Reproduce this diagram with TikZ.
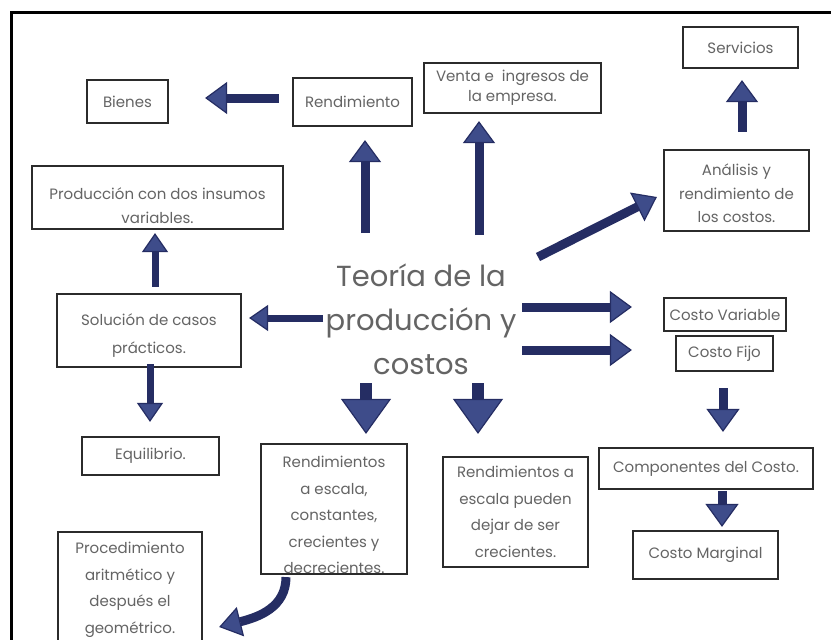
\documentclass[tikz,border=0pt]{standalone}
\usepackage{fontspec}
\setmainfont{Poppins}
\usetikzlibrary{arrows.meta,calc}
\definecolor{navy}{HTML}{252D63}
\definecolor{navyfill}{HTML}{3E4C8A}
\definecolor{ink}{HTML}{646464}
\definecolor{edge}{HTML}{2B2B2B}
\begin{document}
\begin{tikzpicture}[x=1pt,y=-1pt,
  box/.style={draw=edge,line width=2.2pt,inner sep=0pt,fill=white},
  txt/.style={text=ink,font=\fontsize{15}{26}\selectfont,align=center,inner sep=0pt},
  arr/.style={draw=navy,line width=9pt,-{Triangle[length=22pt,width=32pt,line width=1.2pt,fill=navyfill]}},
  arrsm/.style={draw=navy,line width=7pt,-{Triangle[length=19pt,width=26pt,line width=1.2pt,fill=navyfill]}},
  arrmid/.style={draw=navy,line width=9pt,-{Triangle[length=23pt,width=33pt,line width=1.2pt,fill=navyfill]}},
  arrbig/.style={draw=navy,line width=12pt,-{Triangle[length=35pt,width=50pt,line width=1.2pt,fill=navyfill]}},
  arrc/.style={draw=navy,line width=9pt,-{Triangle[length=22pt,width=30pt,line width=1.2pt,fill=navyfill]}}
]
\useasboundingbox (0,0) rectangle (831,640);
\fill[white] (0,0) rectangle (831,640);
% outer frame
\draw[line width=3pt,black] (11,700) -- (11,12) -- (900,12);

% boxes
\node[box,minimum width=81pt,minimum height=43pt,label={[txt]center:Bienes}] (bienes) at (127.5,101.5) {};
\node[box,minimum width=119pt,minimum height=48pt,label={[txt]center:Rendimiento}] (rend) at (352.5,102) {};
\node[box,minimum width=177pt,minimum height=50pt,label={[txt,font=\fontsize{15}{20}\selectfont]center:Venta e\ \ ingresos de\\la empresa.}] (venta) at (512.5,88) {};
\node[box,minimum width=115pt,minimum height=41pt,label={[txt]center:Servicios}] (servicios) at (740.5,47.5) {};
\node[box,minimum width=145pt,minimum height=81pt,label={[txt,font=\fontsize{15}{23.5}\selectfont,yshift=-3pt]center:Análisis y\\rendimiento de\\los costos.}] (analisis) at (736.5,190.5) {};
\node[box,minimum width=251pt,minimum height=63pt,label={[txt,font=\fontsize{15}{24}\selectfont,yshift=-8pt]center:Producción con dos insumos\\variables.}] (produccion) at (157.5,197.5) {};
\node[box,minimum width=184pt,minimum height=73pt,label={[txt,font=\fontsize{15}{28}\selectfont,yshift=-5pt]center:Solución de casos\\prácticos.}] (solucion) at (149,330.5) {};
\node[box,minimum width=122pt,minimum height=33pt,label={[txt]center:Costo Variable}] (cvar) at (725,314.5) {};
\node[box,minimum width=97pt,minimum height=35pt,label={[txt]center:Costo Fijo}] (cfijo) at (724.5,353.5) {};
\node[box,minimum width=137pt,minimum height=38pt,label={[txt]center:Equilibrio.}] (equilibrio) at (150.5,456) {};
\node[box,minimum width=146pt,minimum height=130pt,label={[txt,font=\fontsize{15}{26.5}\selectfont,yshift=-6pt]center:Rendimientos\\a escala,\\constantes,\\crecientes y\\decrecientes.}] (rendesc) at (334,509) {};
\node[box,minimum width=145pt,minimum height=110pt,label={[txt,font=\fontsize{15}{26.7}\selectfont]center:Rendimientos a\\escala pueden\\dejar de ser\\crecientes.}] (rendpued) at (515.5,512) {};
\node[box,minimum width=214pt,minimum height=41pt,label={[txt]center:Componentes del Costo.}] (componentes) at (706,468.5) {};
\node[box,minimum width=145pt,minimum height=48pt,label={[txt]center:Costo Marginal}] (cmarg) at (705.5,555) {};
\node[box,minimum width=144pt,minimum height=148pt,label={[txt,font=\fontsize{15}{26.5}\selectfont,yshift=16pt]center:Procedimiento\\aritmético y\\después el\\geométrico.}] (proc) at (130,606) {};

% central topic
\node[text=ink,font=\fontsize{29}{44}\selectfont,align=center,inner sep=0pt] (theory) at (421,319) {Teoría de la\\producción y\\costos};

% connectors
\draw[arr] ($(rend.west)+(-13,-4)$) -- ($(bienes.east)+(36,-3.5)$);
\draw[arr] ($(theory)+(-56,-86)$) -- ($(rend.south)+(12.5,13)$);
\draw[arr] ($(theory)+(58,-84)$) -- ($(venta.south)+(-33.5,7)$);
\draw[arr] ($(analisis.north)+(5.5,-17)$) -- ($(servicios.south)+(1.5,11)$);
\draw[arr] ($(theory)+(117,-62)$) -- ($(analisis.west)+(-6,6.5)$);
\draw[arrsm] ($(solucion.north)+(6,-6)$) -- ($(produccion.south)+(-2.5,3)$);
\draw[arrsm] ($(theory)+(-98,-1)$) -- ($(solucion.east)+(7,-12.5)$);
\draw[arrsm] ($(solucion.south)+(1,-4)$) -- ($(equilibrio.north)+(-0.5,-14)$);
\draw[arr] ($(theory)+(101,-12)$) -- ($(cvar.west)+(-31,-7.5)$);
\draw[arr] ($(theory)+(101,31)$) -- ($(cfijo.west)+(-43,-3.5)$);
\draw[arrbig] ($(theory)+(-55,64)$) -- ($(rendesc.north)+(32,-9)$);
\draw[arrbig] ($(theory)+(57,64)$) -- ($(rendpued.north)+(-37.5,-22)$);
\draw[arrmid] ($(cfijo.south)+(-1.5,16)$) -- ($(componentes.north)+(17,-15)$);
\draw[arrmid] ($(componentes.south)+(16,1)$) -- ($(cmarg.north)+(16.5,-3)$);
\draw[arrc] ($(rendesc.south)+(-48,2)$) .. controls ($(rendesc.south)+(-48,32)$) and ($(proc.east)+(56,11)$) .. ($(proc.east)+(16,21)$);
\end{tikzpicture}
\end{document}
